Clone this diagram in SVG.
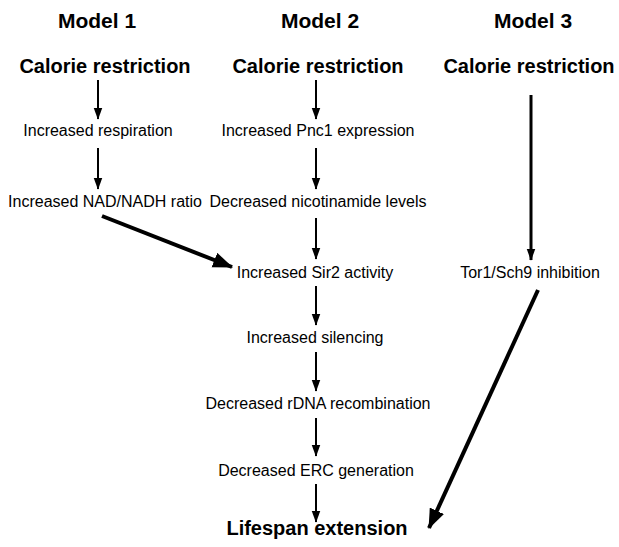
<svg xmlns="http://www.w3.org/2000/svg" width="619" height="547" viewBox="0 0 619 547">
<defs>
<style>
.t{font-family:"Liberation Sans",Arial,sans-serif;fill:#000;text-anchor:middle}
.h{font-size:21px;font-weight:bold}
.b{font-size:20px;font-weight:bold}
.s{font-size:16px}
.a{stroke:#000;fill:none}
</style>
<marker id="ah" markerUnits="userSpaceOnUse" markerWidth="12" markerHeight="14" refX="13" refY="5" orient="auto" viewBox="0 0 14 10">
<path d="M0,0 L14,5 L0,10 Z" fill="#000"/>
</marker>
<marker id="ahb" markerUnits="userSpaceOnUse" markerWidth="20" markerHeight="16" refX="17" refY="7" orient="auto" viewBox="0 0 18 14">
<path d="M0,0 L18,7 L0,14 Z" fill="#000"/>
</marker>
</defs>
<g id="titles">
<text class="t h" x="97" y="28">Model 1</text>
<text class="t h" x="320" y="28">Model 2</text>
<text class="t h" x="533" y="28">Model 3</text>
</g>
<g id="cr1"><text class="t b" x="105" y="73">Calorie restriction</text></g>
<g id="cr2"><text class="t b" x="318" y="73">Calorie restriction</text></g>
<g id="cr3"><text class="t b" x="529" y="73">Calorie restriction</text></g>
<g id="resp"><text class="t s" x="98" y="136">Increased respiration</text></g>
<g id="nad"><text class="t s" x="105" y="207">Increased NAD/NADH ratio</text></g>
<g id="pnc1"><text class="t s" x="318" y="136">Increased Pnc1 expression</text></g>
<g id="nic"><text class="t s" x="318" y="207">Decreased nicotinamide levels</text></g>
<g id="sir2"><text class="t s" x="315" y="278">Increased Sir2 activity</text></g>
<g id="sil"><text class="t s" x="315" y="343">Increased silencing</text></g>
<g id="rdna"><text class="t s" x="318" y="409">Decreased rDNA recombination</text></g>
<g id="erc"><text class="t s" x="316" y="476">Decreased ERC generation</text></g>
<g id="tor"><text class="t s" x="530" y="278">Tor1/Sch9 inhibition</text></g>
<g id="life"><text class="t b" x="317" y="535">Lifespan extension</text></g>
<g id="connectors">
<line class="a" stroke-width="2" x1="98" y1="80" x2="98" y2="119" marker-end="url(#ah)"/>
<line class="a" stroke-width="2" x1="98" y1="148" x2="98" y2="189" marker-end="url(#ah)"/>
<line class="a" stroke-width="4" x1="102" y1="216" x2="232" y2="267" marker-end="url(#ahb)"/>
<line class="a" stroke-width="2" x1="316" y1="80" x2="316" y2="119" marker-end="url(#ah)"/>
<line class="a" stroke-width="2" x1="316" y1="148" x2="316" y2="189" marker-end="url(#ah)"/>
<line class="a" stroke-width="2" x1="316" y1="218" x2="316" y2="259" marker-end="url(#ah)"/>
<line class="a" stroke-width="2" x1="316" y1="286" x2="316" y2="325" marker-end="url(#ah)"/>
<line class="a" stroke-width="2" x1="316" y1="352" x2="316" y2="391" marker-end="url(#ah)"/>
<line class="a" stroke-width="2" x1="316" y1="418" x2="316" y2="456" marker-end="url(#ah)"/>
<line class="a" stroke-width="2" x1="316" y1="484" x2="316" y2="522" marker-end="url(#ah)"/>
<line class="a" stroke-width="3" x1="531" y1="95" x2="531" y2="260" marker-end="url(#ah)"/>
<line class="a" stroke-width="4" x1="538" y1="290" x2="429" y2="528" marker-end="url(#ahb)"/>
</g>
</svg>
